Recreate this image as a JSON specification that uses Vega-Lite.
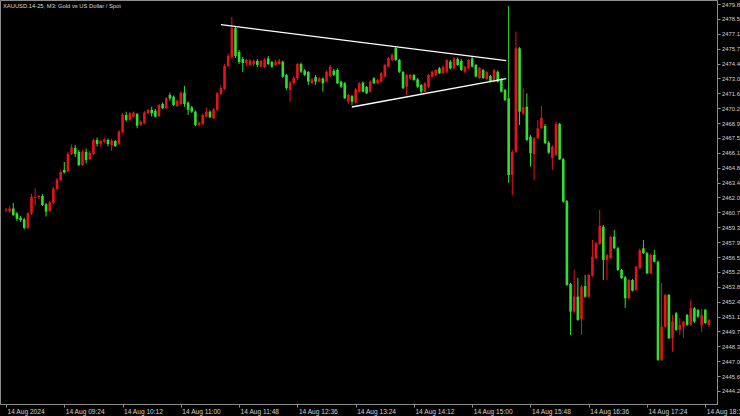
{
  "$schema": "https://vega.github.io/schema/vega-lite/v6.json",
  "width": 717,
  "height": 404,
  "autosize": {"type": "none"},
  "padding": {"left": 0, "top": 0, "right": 23, "bottom": 12},
  "background": "#000000",
  "title": {"text": "XAUUSD.14-25, M3:  Gold vs US Dollar / Spot", "anchor": "start", "frame": "group", "orient": "top", "offset": -9, "dx": 3, "fontSize": 5.8, "font": "Liberation Sans", "fontWeight": "normal", "color": "#d9d9d9"},
  "config": {
    "view": {"stroke": "#8c8c8c", "strokeWidth": 1, "fill": "#000000"},
    "axis": {"grid": false, "domainColor": "#8c8c8c", "tickColor": "#8c8c8c", "labelColor": "#d0d0d0", "labelFont": "Liberation Sans", "labelFontSize": 6.6, "tickSize": 3, "labelPadding": 1, "labelOverlap": false, "labelFlush": false, "labelBound": false, "title": null}
  },
  "datasets": {
    "bars": [
      {"t":"2024-08-14T08:36","o":2460.88,"h":2461.11,"l":2460.74,"c":2460.97},
      {"t":"2024-08-14T08:39","o":2460.78,"h":2461.29,"l":2460.65,"c":2461.06},
      {"t":"2024-08-14T08:42","o":2461.06,"h":2461.57,"l":2460.37,"c":2460.46},
      {"t":"2024-08-14T08:45","o":2460.60,"h":2460.74,"l":2459.91,"c":2460.09},
      {"t":"2024-08-14T08:48","o":2460.19,"h":2460.37,"l":2459.82,"c":2460.00},
      {"t":"2024-08-14T08:51","o":2460.05,"h":2460.19,"l":2459.13,"c":2459.27},
      {"t":"2024-08-14T08:54","o":2459.27,"h":2460.74,"l":2459.17,"c":2460.60},
      {"t":"2024-08-14T08:57","o":2460.60,"h":2462.39,"l":2460.46,"c":2462.15},
      {"t":"2024-08-14T09:00","o":2462.03,"h":2462.90,"l":2461.29,"c":2462.12},
      {"t":"2024-08-14T09:03","o":2462.09,"h":2462.30,"l":2461.93,"c":2462.21},
      {"t":"2024-08-14T09:06","o":2462.21,"h":2462.39,"l":2461.29,"c":2461.38},
      {"t":"2024-08-14T09:09","o":2461.43,"h":2461.57,"l":2460.32,"c":2460.78},
      {"t":"2024-08-14T09:12","o":2460.83,"h":2461.75,"l":2460.74,"c":2461.61},
      {"t":"2024-08-14T09:15","o":2461.57,"h":2463.04,"l":2461.47,"c":2462.90},
      {"t":"2024-08-14T09:18","o":2462.85,"h":2463.87,"l":2462.76,"c":2463.73},
      {"t":"2024-08-14T09:21","o":2463.68,"h":2464.60,"l":2463.59,"c":2464.42},
      {"t":"2024-08-14T09:24","o":2464.60,"h":2465.34,"l":2464.28,"c":2464.37},
      {"t":"2024-08-14T09:27","o":2464.47,"h":2466.26,"l":2464.42,"c":2466.08},
      {"t":"2024-08-14T09:30","o":2466.08,"h":2466.95,"l":2465.98,"c":2466.66},
      {"t":"2024-08-14T09:33","o":2466.63,"h":2466.90,"l":2465.80,"c":2466.08},
      {"t":"2024-08-14T09:36","o":2466.26,"h":2466.44,"l":2464.97,"c":2465.06},
      {"t":"2024-08-14T09:39","o":2465.06,"h":2466.44,"l":2464.97,"c":2466.26},
      {"t":"2024-08-14T09:42","o":2466.26,"h":2466.58,"l":2465.20,"c":2465.52},
      {"t":"2024-08-14T09:45","o":2465.59,"h":2466.35,"l":2465.52,"c":2466.20},
      {"t":"2024-08-14T09:48","o":2466.08,"h":2467.50,"l":2465.98,"c":2467.36},
      {"t":"2024-08-14T09:51","o":2467.36,"h":2467.59,"l":2466.77,"c":2467.00},
      {"t":"2024-08-14T09:54","o":2467.00,"h":2467.36,"l":2466.72,"c":2467.27},
      {"t":"2024-08-14T09:57","o":2467.21,"h":2467.55,"l":2467.09,"c":2467.43},
      {"t":"2024-08-14T10:00","o":2467.36,"h":2467.50,"l":2466.77,"c":2467.00},
      {"t":"2024-08-14T10:03","o":2466.90,"h":2467.46,"l":2466.35,"c":2467.30},
      {"t":"2024-08-14T10:06","o":2467.27,"h":2467.36,"l":2466.72,"c":2466.81},
      {"t":"2024-08-14T10:09","o":2467.00,"h":2468.28,"l":2466.90,"c":2468.13},
      {"t":"2024-08-14T10:12","o":2468.07,"h":2469.85,"l":2468.01,"c":2469.71},
      {"t":"2024-08-14T10:15","o":2469.67,"h":2469.97,"l":2469.05,"c":2469.21},
      {"t":"2024-08-14T10:18","o":2469.21,"h":2469.94,"l":2469.11,"c":2469.82},
      {"t":"2024-08-14T10:21","o":2469.51,"h":2469.99,"l":2469.44,"c":2469.88},
      {"t":"2024-08-14T10:24","o":2469.76,"h":2469.85,"l":2468.44,"c":2468.68},
      {"t":"2024-08-14T10:27","o":2468.75,"h":2469.16,"l":2468.65,"c":2469.05},
      {"t":"2024-08-14T10:30","o":2468.90,"h":2470.03,"l":2468.84,"c":2469.91},
      {"t":"2024-08-14T10:33","o":2469.82,"h":2470.22,"l":2469.76,"c":2470.13},
      {"t":"2024-08-14T10:36","o":2470.13,"h":2470.43,"l":2469.51,"c":2469.82},
      {"t":"2024-08-14T10:39","o":2470.06,"h":2470.22,"l":2469.44,"c":2469.51},
      {"t":"2024-08-14T10:42","o":2469.57,"h":2470.68,"l":2469.48,"c":2470.59},
      {"t":"2024-08-14T10:45","o":2470.68,"h":2470.82,"l":2470.22,"c":2470.28},
      {"t":"2024-08-14T10:48","o":2470.28,"h":2471.32,"l":2470.22,"c":2471.20},
      {"t":"2024-08-14T10:51","o":2471.51,"h":2471.72,"l":2470.98,"c":2471.20},
      {"t":"2024-08-14T10:54","o":2471.35,"h":2471.46,"l":2470.49,"c":2470.59},
      {"t":"2024-08-14T10:57","o":2470.49,"h":2471.09,"l":2470.40,"c":2470.98},
      {"t":"2024-08-14T11:00","o":2470.68,"h":2471.83,"l":2470.59,"c":2471.72},
      {"t":"2024-08-14T11:03","o":2471.72,"h":2472.33,"l":2470.43,"c":2470.68},
      {"t":"2024-08-14T11:06","o":2470.80,"h":2470.91,"l":2469.67,"c":2470.13},
      {"t":"2024-08-14T11:09","o":2470.37,"h":2470.49,"l":2469.85,"c":2469.97},
      {"t":"2024-08-14T11:12","o":2469.97,"h":2470.08,"l":2468.65,"c":2468.75},
      {"t":"2024-08-14T11:15","o":2468.75,"h":2469.07,"l":2468.61,"c":2468.96},
      {"t":"2024-08-14T11:18","o":2468.84,"h":2469.80,"l":2468.75,"c":2469.67},
      {"t":"2024-08-14T11:21","o":2469.51,"h":2470.34,"l":2469.44,"c":2469.97},
      {"t":"2024-08-14T11:24","o":2469.97,"h":2470.08,"l":2469.39,"c":2469.45},
      {"t":"2024-08-14T11:27","o":2469.36,"h":2470.31,"l":2469.30,"c":2470.19},
      {"t":"2024-08-14T11:30","o":2470.13,"h":2471.78,"l":2470.03,"c":2471.66},
      {"t":"2024-08-14T11:33","o":2471.60,"h":2472.43,"l":2471.51,"c":2472.15},
      {"t":"2024-08-14T11:36","o":2472.06,"h":2474.36,"l":2471.97,"c":2474.18},
      {"t":"2024-08-14T11:39","o":2474.18,"h":2475.28,"l":2474.08,"c":2475.10},
      {"t":"2024-08-14T11:42","o":2475.00,"h":2478.69,"l":2474.82,"c":2477.67},
      {"t":"2024-08-14T11:45","o":2477.67,"h":2477.77,"l":2474.91,"c":2475.10},
      {"t":"2024-08-14T11:48","o":2475.46,"h":2475.65,"l":2474.36,"c":2474.54},
      {"t":"2024-08-14T11:51","o":2474.82,"h":2475.00,"l":2473.62,"c":2474.45},
      {"t":"2024-08-14T11:54","o":2474.45,"h":2474.82,"l":2474.18,"c":2474.73},
      {"t":"2024-08-14T11:57","o":2474.27,"h":2474.82,"l":2474.18,"c":2474.68},
      {"t":"2024-08-14T12:00","o":2474.36,"h":2474.77,"l":2474.18,"c":2474.64},
      {"t":"2024-08-14T12:03","o":2474.64,"h":2474.82,"l":2474.08,"c":2474.27},
      {"t":"2024-08-14T12:06","o":2474.11,"h":2474.73,"l":2473.99,"c":2474.64},
      {"t":"2024-08-14T12:09","o":2474.08,"h":2474.91,"l":2473.99,"c":2474.77},
      {"t":"2024-08-14T12:12","o":2474.87,"h":2475.10,"l":2474.27,"c":2474.36},
      {"t":"2024-08-14T12:15","o":2474.54,"h":2474.64,"l":2473.99,"c":2474.11},
      {"t":"2024-08-14T12:18","o":2474.27,"h":2474.73,"l":2474.18,"c":2474.57},
      {"t":"2024-08-14T12:21","o":2474.36,"h":2474.82,"l":2474.27,"c":2474.66},
      {"t":"2024-08-14T12:24","o":2474.57,"h":2474.68,"l":2473.07,"c":2473.19},
      {"t":"2024-08-14T12:27","o":2473.35,"h":2473.44,"l":2471.97,"c":2472.15},
      {"t":"2024-08-14T12:30","o":2471.97,"h":2472.80,"l":2470.89,"c":2472.64},
      {"t":"2024-08-14T12:33","o":2472.61,"h":2473.25,"l":2472.43,"c":2473.07},
      {"t":"2024-08-14T12:36","o":2473.07,"h":2474.45,"l":2472.89,"c":2474.36},
      {"t":"2024-08-14T12:39","o":2474.36,"h":2474.50,"l":2473.53,"c":2473.65},
      {"t":"2024-08-14T12:42","o":2473.76,"h":2473.90,"l":2473.25,"c":2473.35},
      {"t":"2024-08-14T12:45","o":2473.62,"h":2473.72,"l":2472.43,"c":2472.73},
      {"t":"2024-08-14T12:48","o":2472.58,"h":2473.07,"l":2472.52,"c":2472.95},
      {"t":"2024-08-14T12:51","o":2473.16,"h":2473.35,"l":2472.43,"c":2472.73},
      {"t":"2024-08-14T12:54","o":2472.73,"h":2473.16,"l":2472.66,"c":2473.04},
      {"t":"2024-08-14T12:57","o":2473.02,"h":2473.12,"l":2471.81,"c":2472.58},
      {"t":"2024-08-14T13:00","o":2472.73,"h":2473.76,"l":2472.66,"c":2473.65},
      {"t":"2024-08-14T13:03","o":2473.25,"h":2474.27,"l":2473.16,"c":2474.11},
      {"t":"2024-08-14T13:06","o":2473.74,"h":2473.90,"l":2473.25,"c":2473.35},
      {"t":"2024-08-14T13:09","o":2473.81,"h":2473.95,"l":2472.52,"c":2472.58},
      {"t":"2024-08-14T13:12","o":2472.73,"h":2472.84,"l":2472.15,"c":2472.27},
      {"t":"2024-08-14T13:15","o":2472.58,"h":2472.70,"l":2471.14,"c":2471.20},
      {"t":"2024-08-14T13:18","o":2470.89,"h":2471.60,"l":2470.68,"c":2471.51},
      {"t":"2024-08-14T13:21","o":2471.41,"h":2471.51,"l":2470.59,"c":2470.89},
      {"t":"2024-08-14T13:24","o":2470.80,"h":2472.15,"l":2470.72,"c":2472.03},
      {"t":"2024-08-14T13:27","o":2471.81,"h":2472.70,"l":2471.74,"c":2472.58},
      {"t":"2024-08-14T13:30","o":2472.64,"h":2472.75,"l":2471.74,"c":2471.81},
      {"t":"2024-08-14T13:33","o":2472.24,"h":2472.33,"l":2471.60,"c":2471.66},
      {"t":"2024-08-14T13:36","o":2471.81,"h":2472.84,"l":2471.74,"c":2472.73},
      {"t":"2024-08-14T13:39","o":2473.04,"h":2473.16,"l":2472.52,"c":2472.58},
      {"t":"2024-08-14T13:42","o":2472.58,"h":2472.98,"l":2472.52,"c":2472.89},
      {"t":"2024-08-14T13:45","o":2472.73,"h":2473.62,"l":2472.66,"c":2473.50},
      {"t":"2024-08-14T13:48","o":2473.19,"h":2474.36,"l":2473.12,"c":2474.27},
      {"t":"2024-08-14T13:51","o":2474.11,"h":2475.00,"l":2474.04,"c":2474.88},
      {"t":"2024-08-14T13:54","o":2474.73,"h":2475.37,"l":2474.64,"c":2475.19},
      {"t":"2024-08-14T13:57","o":2475.83,"h":2476.02,"l":2474.64,"c":2474.73},
      {"t":"2024-08-14T14:00","o":2474.73,"h":2474.82,"l":2473.53,"c":2473.65},
      {"t":"2024-08-14T14:03","o":2473.62,"h":2473.72,"l":2472.06,"c":2472.12},
      {"t":"2024-08-14T14:06","o":2472.27,"h":2473.44,"l":2471.51,"c":2473.35},
      {"t":"2024-08-14T14:09","o":2473.04,"h":2473.44,"l":2472.89,"c":2473.35},
      {"t":"2024-08-14T14:12","o":2473.35,"h":2473.44,"l":2472.80,"c":2472.89},
      {"t":"2024-08-14T14:15","o":2472.95,"h":2473.07,"l":2472.15,"c":2472.27},
      {"t":"2024-08-14T14:18","o":2472.43,"h":2472.52,"l":2471.66,"c":2471.81},
      {"t":"2024-08-14T14:21","o":2471.81,"h":2472.70,"l":2471.74,"c":2472.58},
      {"t":"2024-08-14T14:24","o":2472.27,"h":2473.44,"l":2472.15,"c":2473.35},
      {"t":"2024-08-14T14:27","o":2473.19,"h":2473.76,"l":2473.12,"c":2473.65},
      {"t":"2024-08-14T14:30","o":2473.35,"h":2473.90,"l":2473.25,"c":2473.81},
      {"t":"2024-08-14T14:33","o":2473.96,"h":2474.08,"l":2473.44,"c":2473.50},
      {"t":"2024-08-14T14:36","o":2473.50,"h":2474.22,"l":2473.44,"c":2474.11},
      {"t":"2024-08-14T14:39","o":2473.65,"h":2474.82,"l":2473.53,"c":2474.73},
      {"t":"2024-08-14T14:42","o":2474.57,"h":2474.73,"l":2473.85,"c":2473.96},
      {"t":"2024-08-14T14:45","o":2473.96,"h":2475.00,"l":2473.85,"c":2474.88},
      {"t":"2024-08-14T14:48","o":2474.82,"h":2474.96,"l":2474.18,"c":2474.27},
      {"t":"2024-08-14T14:51","o":2474.64,"h":2474.82,"l":2473.72,"c":2473.81},
      {"t":"2024-08-14T14:54","o":2473.65,"h":2474.18,"l":2473.53,"c":2474.11},
      {"t":"2024-08-14T14:57","o":2473.96,"h":2474.82,"l":2473.90,"c":2474.73},
      {"t":"2024-08-14T15:00","o":2474.88,"h":2475.10,"l":2474.04,"c":2474.11},
      {"t":"2024-08-14T15:03","o":2474.27,"h":2474.36,"l":2473.12,"c":2473.19},
      {"t":"2024-08-14T15:06","o":2473.07,"h":2474.08,"l":2472.98,"c":2473.99},
      {"t":"2024-08-14T15:09","o":2473.81,"h":2473.90,"l":2472.98,"c":2473.07},
      {"t":"2024-08-14T15:12","o":2472.98,"h":2473.72,"l":2472.89,"c":2473.62},
      {"t":"2024-08-14T15:15","o":2473.25,"h":2473.35,"l":2472.66,"c":2472.73},
      {"t":"2024-08-14T15:18","o":2472.73,"h":2473.90,"l":2472.66,"c":2473.81},
      {"t":"2024-08-14T15:21","o":2473.65,"h":2473.76,"l":2472.66,"c":2472.73},
      {"t":"2024-08-14T15:24","o":2472.89,"h":2473.07,"l":2471.74,"c":2471.81},
      {"t":"2024-08-14T15:27","o":2471.97,"h":2472.06,"l":2470.95,"c":2471.05},
      {"t":"2024-08-14T15:30","o":2471.20,"h":2479.70,"l":2463.41,"c":2464.14},
      {"t":"2024-08-14T15:33","o":2464.14,"h":2466.44,"l":2462.30,"c":2466.26},
      {"t":"2024-08-14T15:36","o":2466.29,"h":2477.33,"l":2466.17,"c":2475.80},
      {"t":"2024-08-14T15:39","o":2475.80,"h":2475.92,"l":2468.75,"c":2469.97},
      {"t":"2024-08-14T15:42","o":2469.82,"h":2472.12,"l":2469.67,"c":2470.37},
      {"t":"2024-08-14T15:45","o":2470.43,"h":2471.66,"l":2467.27,"c":2467.36},
      {"t":"2024-08-14T15:48","o":2467.67,"h":2467.82,"l":2464.91,"c":2466.14},
      {"t":"2024-08-14T15:51","o":2466.08,"h":2467.64,"l":2463.68,"c":2467.52},
      {"t":"2024-08-14T15:54","o":2467.52,"h":2469.21,"l":2467.46,"c":2468.44},
      {"t":"2024-08-14T15:57","o":2468.47,"h":2470.49,"l":2468.38,"c":2469.39},
      {"t":"2024-08-14T16:00","o":2468.65,"h":2468.84,"l":2467.00,"c":2467.06},
      {"t":"2024-08-14T16:03","o":2467.12,"h":2467.27,"l":2466.08,"c":2466.20},
      {"t":"2024-08-14T16:06","o":2465.71,"h":2466.90,"l":2464.60,"c":2466.72},
      {"t":"2024-08-14T16:09","o":2465.98,"h":2469.02,"l":2465.89,"c":2468.84},
      {"t":"2024-08-14T16:12","o":2468.84,"h":2468.93,"l":2465.52,"c":2465.59},
      {"t":"2024-08-14T16:15","o":2465.59,"h":2465.71,"l":2461.57,"c":2461.69},
      {"t":"2024-08-14T16:18","o":2461.75,"h":2461.84,"l":2453.93,"c":2454.02},
      {"t":"2024-08-14T16:21","o":2454.11,"h":2454.20,"l":2449.42,"c":2451.56},
      {"t":"2024-08-14T16:24","o":2451.56,"h":2455.40,"l":2451.44,"c":2452.94},
      {"t":"2024-08-14T16:27","o":2452.94,"h":2454.66,"l":2450.71,"c":2450.80},
      {"t":"2024-08-14T16:30","o":2450.86,"h":2454.02,"l":2449.42,"c":2453.86},
      {"t":"2024-08-14T16:33","o":2453.93,"h":2454.94,"l":2452.82,"c":2452.94},
      {"t":"2024-08-14T16:36","o":2452.94,"h":2455.03,"l":2452.82,"c":2454.94},
      {"t":"2024-08-14T16:39","o":2454.85,"h":2458.16,"l":2454.76,"c":2456.62},
      {"t":"2024-08-14T16:42","o":2456.48,"h":2457.98,"l":2456.41,"c":2457.86},
      {"t":"2024-08-14T16:45","o":2457.79,"h":2460.92,"l":2457.70,"c":2459.45},
      {"t":"2024-08-14T16:48","o":2459.38,"h":2459.54,"l":2454.48,"c":2456.32},
      {"t":"2024-08-14T16:51","o":2456.32,"h":2456.87,"l":2454.48,"c":2456.78},
      {"t":"2024-08-14T16:54","o":2456.48,"h":2458.53,"l":2456.41,"c":2458.46},
      {"t":"2024-08-14T16:57","o":2458.46,"h":2459.08,"l":2457.33,"c":2457.40},
      {"t":"2024-08-14T17:00","o":2457.40,"h":2457.52,"l":2455.31,"c":2455.40},
      {"t":"2024-08-14T17:03","o":2455.40,"h":2455.49,"l":2454.57,"c":2454.64},
      {"t":"2024-08-14T17:06","o":2454.73,"h":2454.85,"l":2451.90,"c":2452.79},
      {"t":"2024-08-14T17:09","o":2452.79,"h":2454.57,"l":2452.73,"c":2454.48},
      {"t":"2024-08-14T17:12","o":2454.48,"h":2454.57,"l":2453.42,"c":2453.49},
      {"t":"2024-08-14T17:15","o":2453.56,"h":2455.77,"l":2453.47,"c":2455.70},
      {"t":"2024-08-14T17:18","o":2455.56,"h":2457.38,"l":2455.49,"c":2457.24},
      {"t":"2024-08-14T17:21","o":2457.40,"h":2458.16,"l":2456.87,"c":2456.94},
      {"t":"2024-08-14T17:24","o":2456.94,"h":2457.06,"l":2455.03,"c":2455.09},
      {"t":"2024-08-14T17:27","o":2455.09,"h":2456.87,"l":2455.03,"c":2456.78},
      {"t":"2024-08-14T17:30","o":2456.78,"h":2457.24,"l":2456.09,"c":2456.16},
      {"t":"2024-08-14T17:33","o":2456.16,"h":2456.27,"l":2447.02,"c":2447.12},
      {"t":"2024-08-14T17:36","o":2447.12,"h":2454.20,"l":2447.02,"c":2450.18},
      {"t":"2024-08-14T17:39","o":2450.18,"h":2453.19,"l":2450.11,"c":2453.10},
      {"t":"2024-08-14T17:42","o":2453.10,"h":2453.19,"l":2449.05,"c":2449.11},
      {"t":"2024-08-14T17:45","o":2449.11,"h":2451.26,"l":2447.88,"c":2450.64},
      {"t":"2024-08-14T17:48","o":2451.41,"h":2451.53,"l":2449.79,"c":2449.88},
      {"t":"2024-08-14T17:51","o":2449.88,"h":2450.98,"l":2449.42,"c":2450.34},
      {"t":"2024-08-14T17:54","o":2450.18,"h":2450.71,"l":2449.14,"c":2450.64},
      {"t":"2024-08-14T17:57","o":2451.26,"h":2451.35,"l":2450.25,"c":2450.34},
      {"t":"2024-08-14T18:00","o":2450.34,"h":2452.64,"l":2450.25,"c":2451.87},
      {"t":"2024-08-14T18:03","o":2451.87,"h":2451.99,"l":2450.52,"c":2450.64},
      {"t":"2024-08-14T18:06","o":2451.72,"h":2451.81,"l":2450.98,"c":2451.10},
      {"t":"2024-08-14T18:09","o":2450.34,"h":2451.81,"l":2449.69,"c":2451.26},
      {"t":"2024-08-14T18:12","o":2451.72,"h":2451.81,"l":2450.43,"c":2450.52},
      {"t":"2024-08-14T18:15","o":2450.34,"h":2450.89,"l":2450.15,"c":2450.80}
    ],
    "lines": [
      {"t1":"2024-08-14T11:33","p1":2477.98,"t2":"2024-08-14T15:28","p2":2474.66},
      {"t1":"2024-08-14T13:20:48","p1":2470.40,"t2":"2024-08-14T15:28","p2":2473.01}
    ]
  },
  "layer": [
    {
      "data": {"name": "bars"},
      "mark": {"type": "rule", "strokeWidth": 1},
      "encoding": {
        "x": {"field": "t", "type": "temporal",
          "scale": {"domain": [{"year": 2024, "month": 8, "date": 14, "hours": 8, "minutes": 35, "seconds": 10}, {"year": 2024, "month": 8, "date": 14, "hours": 18, "minutes": 17, "seconds": 30}]},
          "axis": {"orient": "bottom", "labelAlign": "left", "labelBaseline": "top", "labelOffset": 1, "labelOverlap": false, "tickCount": 40,
            "values": [
              {"year": 2024, "month": 8, "date": 14, "hours": 8, "minutes": 36},
              {"year": 2024, "month": 8, "date": 14, "hours": 9, "minutes": 24},
              {"year": 2024, "month": 8, "date": 14, "hours": 10, "minutes": 12},
              {"year": 2024, "month": 8, "date": 14, "hours": 11, "minutes": 0},
              {"year": 2024, "month": 8, "date": 14, "hours": 11, "minutes": 48},
              {"year": 2024, "month": 8, "date": 14, "hours": 12, "minutes": 36},
              {"year": 2024, "month": 8, "date": 14, "hours": 13, "minutes": 24},
              {"year": 2024, "month": 8, "date": 14, "hours": 14, "minutes": 12},
              {"year": 2024, "month": 8, "date": 14, "hours": 15, "minutes": 0},
              {"year": 2024, "month": 8, "date": 14, "hours": 15, "minutes": 48},
              {"year": 2024, "month": 8, "date": 14, "hours": 16, "minutes": 36},
              {"year": 2024, "month": 8, "date": 14, "hours": 17, "minutes": 24},
              {"year": 2024, "month": 8, "date": 14, "hours": 18, "minutes": 12}
            ],
            "labelExpr": "hours(datum.value) == 8 ? '14 Aug 2024' : timeFormat(datum.value, '%d %b %H:%M')"}},
        "y": {"field": "l", "type": "quantitative",
          "scale": {"domain": [2443.06, 2480.25], "zero": false, "nice": false},
          "axis": {"orient": "right", "format": ".2f", "labelAlign": "left", "labelBaseline": "middle", "labelOverlap": false, "labelFontSize": 5.9, "labelPadding": 1.5, "tickCount": 60,
            "values": [2444.26, 2445.63, 2447.00, 2448.37, 2449.74, 2451.11, 2452.48, 2453.85, 2455.22, 2456.59, 2457.96, 2459.33, 2460.70, 2462.07, 2463.44, 2464.81, 2466.18, 2467.55, 2468.92, 2470.29, 2471.66, 2473.03, 2474.40, 2475.77, 2477.14, 2478.51, 2479.88]}},
        "y2": {"field": "h"},
        "color": {"condition": {"test": "datum.c > datum.o", "value": "#e3141a"}, "value": "#2fe02f"}
      }
    },
    {
      "data": {"name": "bars"},
      "mark": {"type": "bar", "width": 2.6},
      "encoding": {
        "x": {"field": "t", "type": "temporal"},
        "y": {"field": "o", "type": "quantitative"},
        "y2": {"field": "c"},
        "color": {"condition": {"test": "datum.c > datum.o", "value": "#e3141a"}, "value": "#2fe02f"}
      }
    },
    {
      "data": {"name": "lines"},
      "mark": {"type": "rule", "color": "#ffffff", "strokeWidth": 1.3},
      "encoding": {
        "x": {"field": "t1", "type": "temporal"},
        "x2": {"field": "t2"},
        "y": {"field": "p1", "type": "quantitative"},
        "y2": {"field": "p2"}
      }
    }
  ]
}
